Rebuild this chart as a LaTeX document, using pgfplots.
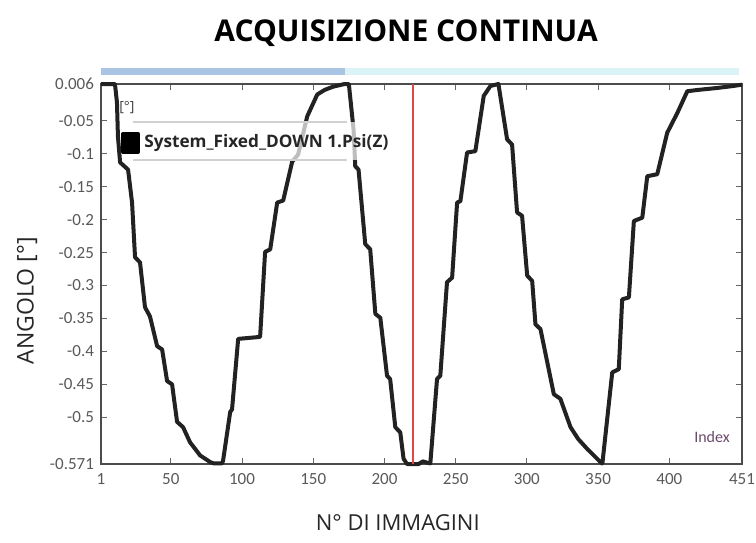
\documentclass[border=0pt]{standalone}
\usepackage{fontspec}
\setmainfont{Open Sans}
\newfontfamily\tickfont{Carlito}
\usepackage{pgfplots}
\pgfplotsset{compat=1.18}
\definecolor{barA}{HTML}{A9C5E3}
\definecolor{barB}{HTML}{D9F3F6}
\definecolor{curve}{HTML}{222222}
\definecolor{cursor}{HTML}{E04848}
\definecolor{idx}{HTML}{6A4A6A}
\begin{document}
\begin{tikzpicture}[x=1pt,y=1pt]
\useasboundingbox (-50.5,-39) rectangle (327.5,232);
\begin{axis}[at={(0,0)}, anchor=south west, scale only axis,
  width=320.5pt, height=190pt,
  xmin=1, xmax=451, ymin=-0.571, ymax=0.006,
  clip=false,
  xtick={1,50,100,150,200,250,300,350,400,451},
  xticklabels={1,50,100,150,200,250,300,350,400,451},
  ytick={-0.571,-0.5,-0.45,-0.4,-0.35,-0.3,-0.25,-0.2,-0.15,-0.1,-0.05,0.006},
  yticklabels={-0.571,-0.5,-0.45,-0.4,-0.35,-0.3,-0.25,-0.2,-0.15,-0.1,-0.05,0.006},
  tick align=inside, major tick length=3pt,
  tick style={black!60, line width=0.5pt},
  axis line style={black!70, line width=0.6pt},
  ticklabel style={font=\tickfont\fontsize{8.5}{10}\selectfont, text=black!65},
  xticklabel style={yshift=-1pt},
  title={\bfseries ACQUISIZIONE CONTINUA},
  title style={at={(axis description cs:0.476,1.102)}, anchor=center, font=\fontsize{15}{18}\selectfont},
  xlabel={N° DI IMMAGINI},
  xlabel style={at={(axis description cs:0.463,-0.155)}, anchor=center, font=\fontsize{11}{13}\selectfont, text=black!85},
  ylabel={ANGOLO [°]},
  ylabel style={at={(axis description cs:-0.1154,0.43)}, anchor=center, font=\fontsize{11.5}{13}\selectfont, text=black!85},
  legend style={at={(axis description cs:0.031,0.845)}, anchor=west, draw=none, fill=none, inner sep=0pt,
    font=\fontsize{8.6}{10}\selectfont\bfseries, text=black!85},
  legend cell align=left,
  legend image code/.code={\fill[black] (0pt,-4.5pt) rectangle (7.5pt,4.5pt);},
]
\addplot[curve, line width=2pt, line join=round] coordinates {
(1,0.006)(10.8,0.006)(12.2,-0.022)(12.9,-0.074)(14.4,-0.113)(20,-0.124)(22.8,-0.174)(24.9,-0.257)(28.4,-0.265)
(31.9,-0.333)(35.4,-0.347)(40.4,-0.392)(43.9,-0.397)(47.4,-0.445)(50.9,-0.450)(54.4,-0.507)(58.6,-0.515)
(63.5,-0.538)(70.6,-0.558)(77.6,-0.568)(80,-0.570)(86,-0.570)(86.7,-0.566)(91.7,-0.492)(93,-0.488)
(97.3,-0.381)(112.7,-0.378)(116.2,-0.249)(119.8,-0.245)(124.7,-0.174)(128.9,-0.171)(135.2,-0.112)
(139.4,-0.101)(145.8,-0.043)(152.8,-0.010)(158,-0.003)(164,0.002)(172,0.006)(175,0.006)(178.3,-0.063)
(179.5,-0.119)(181.8,-0.124)(186.5,-0.237)(190,-0.245)(193.6,-0.343)(197.1,-0.349)(201.8,-0.437)
(204,-0.442)(207.6,-0.515)(211.1,-0.523)(213.4,-0.563)(215.8,-0.571)(224,-0.571)(227,-0.567)(230,-0.569)
(232.2,-0.570)(236.9,-0.442)(239.2,-0.437)(243.9,-0.295)(247.5,-0.288)(251,-0.174)(253.3,-0.172)
(258,-0.098)(263.8,-0.096)(269.7,-0.012)(274.4,0.003)(280,0.006)(286.1,-0.078)(289.6,-0.086)
(293.1,-0.189)(296.6,-0.194)(300.2,-0.285)(303.7,-0.293)(306,-0.359)(309.5,-0.366)(318.9,-0.465)
(323.5,-0.472)(330.6,-0.515)(336,-0.533)(342.3,-0.548)(347,-0.558)(352.5,-0.570)(353,-0.570)
(359.9,-0.432)(364.5,-0.427)(366.9,-0.321)(371.6,-0.318)(375.1,-0.202)(381,-0.197)(384.5,-0.134)
(391.5,-0.131)(398.5,-0.068)(405.6,-0.038)(412.6,-0.005)(420,-0.003)(433.7,0.000)(445,0.003)(451,0.005)
};
\addlegendentry{System\_Fixed\_DOWN 1.Psi(Z)}
\addplot[cursor, line width=1pt, forget plot] coordinates {(220,-0.571) (220,0.006)};
% legend panel: translucent band between two thin rules (drawn before the legend)
\fill[white, opacity=0.7] (rel axis cs:0.0546,0.8) rectangle (rel axis cs:0.45,0.9);
\draw[black!18, line width=0.6pt] (rel axis cs:0.05,0.9) -- (rel axis cs:0.3838,0.9);
\draw[black!18, line width=0.6pt] (rel axis cs:0.05,0.8) -- (rel axis cs:0.3838,0.8);
\end{axis}
% overview bar above the plot
\fill[barA] (0,194.5) rectangle (122,198);
\fill[barB] (122,194.5) rectangle (319,198);
\node[font=\fontsize{7}{8}\selectfont, text=black!75, anchor=center] at (13,178) {[°]};
\node[font=\tickfont\fontsize{8}{9}\selectfont, text=idx, anchor=center] at (305.5,13.5) {Index};
\end{tikzpicture}
\end{document}
